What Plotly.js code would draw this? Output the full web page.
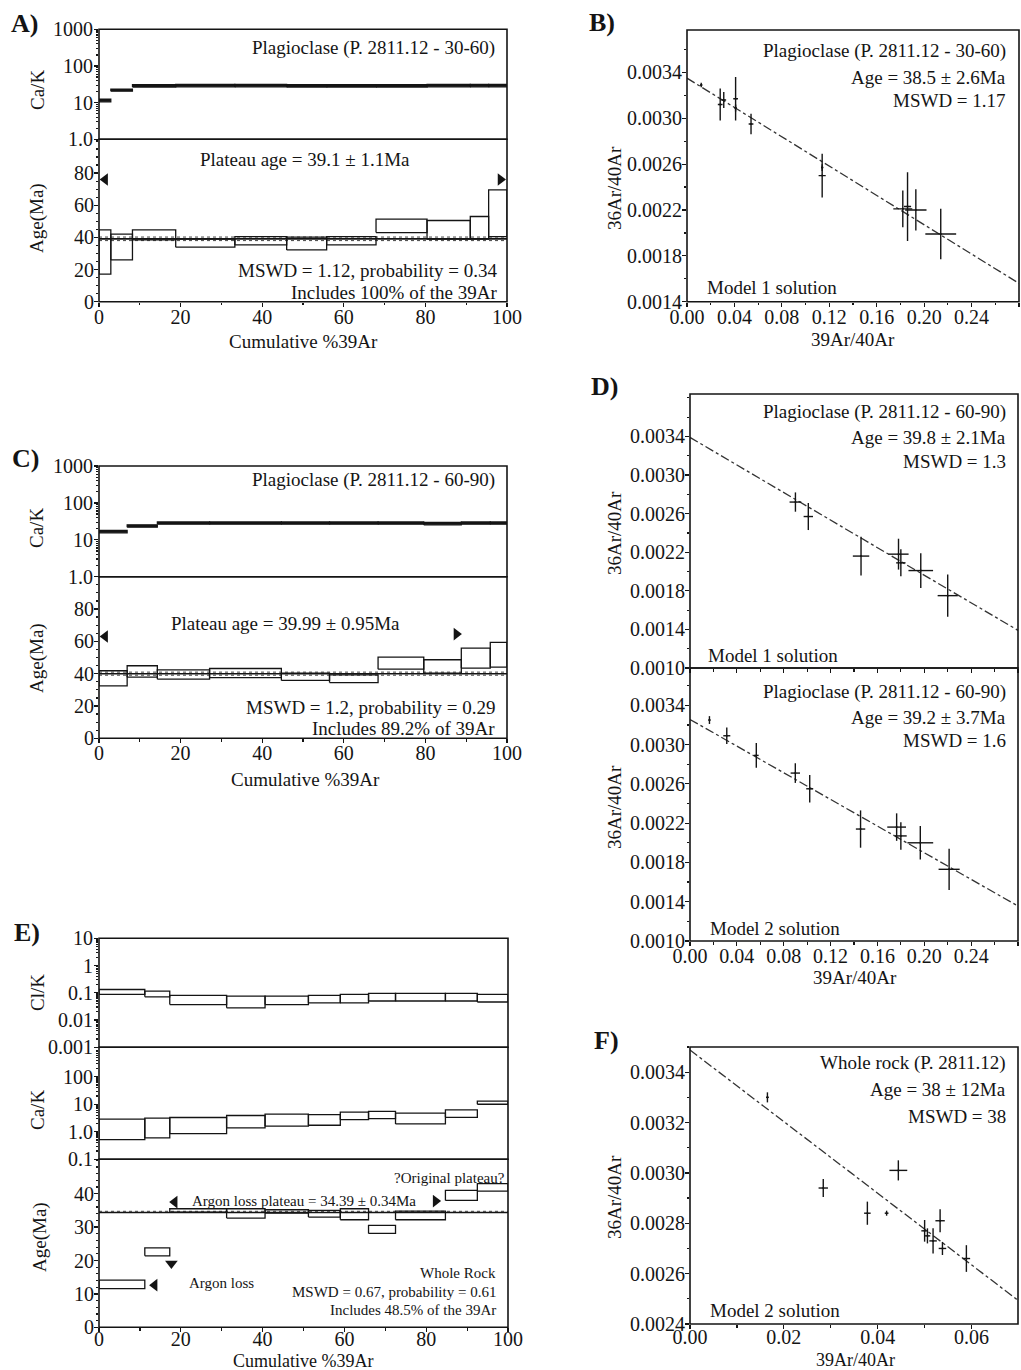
<!DOCTYPE html>
<html>
<head>
<meta charset="utf-8">
<script src="https://cdn.plot.ly/plotly-3.0.1.min.js"></script>
<style>html,body{margin:0;padding:0;background:#fff}#chart{width:1021px;height:1370px}</style>
</head>
<body>
<div id="chart"></div>
<script>
// ---------- DATA ----------
// Panel A : Plagioclase 30-60 step heating spectrum
const cumA = [0, 2.9, 8.2, 18.8, 33.3, 46, 55.8, 67.9, 80.4, 91, 95.5, 100];
const ageA_min = [17.2, 26, 38.5, 33.9, 35.3, 32.2, 35.3, 43, 38.9, 38.9, 40.5];
const ageA_max = [44.7, 42, 44.7, 38.9, 40.5, 40.1, 40.5, 51.3, 50.5, 53, 69.6];
const cakA_min = [10.5, 20.5, 26.5, 27, 27, 26.5, 26.5, 26.5, 27, 27, 27];
const cakA_max = [12.5, 23.5, 31, 31.5, 31.5, 31, 31, 31, 31.5, 31.5, 31.5];
const plateauA = 39.1, plateauA_err = 1.1;
const arrowsA_x = [1.5, 98.4], arrowsA_y = [76, 76], arrowsA_sym = ['triangle-left', 'triangle-right'];

// Panel B : isochron 30-60
const isoB_x = [0.012, 0.028, 0.031, 0.041, 0.041, 0.054, 0.114, 0.114, 0.182, 0.186, 0.193, 0.214];
const isoB_y = [0.00329, 0.00312, 0.00316, 0.00317, 0.00309, 0.00295, 0.00250, 0.00257, 0.00221, 0.00223, 0.00220, 0.00199];
const isoB_ex = [0.001, 0.002, 0.002, 0.002, 0.001, 0.002, 0.003, 0.001, 0.008, 0.003, 0.009, 0.013];
const isoB_ey = [0.00002, 0.00014, 0.00007, 0.00019, 0.00003, 0.00009, 0.00019, 0.00003, 0.00016, 0.0003, 0.00018, 0.00022];
const lineB_x = [0, 0.28], lineB_y = [0.00335, 0.00156];

// Panel C : Plagioclase 60-90 spectrum
const cumC = [0, 6.9, 14.3, 27.1, 44.7, 56.5, 68.4, 79.6, 88.8, 95.9, 100];
const ageC_min = [32.5, 37.8, 36.6, 37.6, 35.8, 34.5, 42.8, 40.3, 43.4, 44];
const ageC_max = [41.8, 44.9, 42.4, 43.2, 40.3, 39.3, 50.2, 48.6, 55.8, 59.3];
const cakC_min = [15.5, 22, 26.5, 26.5, 26.5, 26.5, 26.5, 25.5, 26.5, 26.5];
const cakC_max = [18, 25.5, 30.5, 30.5, 30.5, 30.5, 30.5, 29.5, 30.5, 30.5];
const plateauC = 39.99, plateauC_err = 0.95;
const arrowsC_x = [1.5, 87.6], arrowsC_y = [63, 64.5], arrowsC_sym = ['triangle-left', 'triangle-right'];

// Panel D : isochrons 60-90 (Model 1 / Model 2)
const isoD1_x = [0.090, 0.101, 0.146, 0.178, 0.180, 0.197, 0.220];
const isoD1_y = [0.00272, 0.00257, 0.00216, 0.00218, 0.00209, 0.00201, 0.00175];
const isoD1_ex = [0.005, 0.004, 0.007, 0.0086, 0.004, 0.0105, 0.0086];
const isoD1_ey = [0.0001, 0.00014, 0.0002, 0.00016, 0.00014, 0.00018, 0.00022];
const lineD1_x = [0, 0.28], lineD1_y = [0.00339, 0.00139];

const isoD2_x = [0.0166, 0.0314, 0.0566, 0.0899, 0.1022, 0.1456, 0.1764, 0.180, 0.1966, 0.2212];
const isoD2_y = [0.00325, 0.00309, 0.00289, 0.00271, 0.00255, 0.00214, 0.00216, 0.00207, 0.00200, 0.00173];
const isoD2_ex = [0.001, 0.003, 0.002, 0.004, 0.003, 0.004, 0.008, 0.005, 0.011, 0.009];
const isoD2_ey = [0.00004, 0.000085, 0.000125, 0.0001, 0.00014, 0.00019, 0.00014, 0.00014, 0.00017, 0.00021];
const lineD2_x = [0, 0.28], lineD2_y = [0.003256, 0.001356];

// Panel E : whole rock spectrum
const cumE = [0, 11.2, 17.3, 31.2, 40.6, 51.2, 59.0, 65.9, 72.5, 84.7, 92.5, 100];
const clkE_min = [0.087, 0.071, 0.037, 0.028, 0.037, 0.043, 0.043, 0.05, 0.05, 0.05, 0.046];
const clkE_max = [0.132, 0.115, 0.080, 0.076, 0.076, 0.080, 0.087, 0.095, 0.095, 0.095, 0.087];
const cakE_min = [0.52, 0.6, 0.85, 1.39, 1.6, 1.73, 2.76, 3.0, 1.93, 3.34, 10];
const cakE_max = [2.9, 3.16, 3.3, 3.9, 4.4, 4.2, 5.2, 5.5, 4.76, 6.3, 13.1];
const ageE_min = [11.6, 21.4, 34.5, 32.7, 34.2, 33, 32.2, 28.1, 32.2, 38, 40.8];
const ageE_max = [14.1, 23.8, 35.5, 35.5, 35.2, 35, 35.5, 30.5, 34.8, 41, 43];
const plateauE = 34.39, plateauE_err = 0.34;
const arrowsE_x = [18.5, 82.3, 17.7, 13.6];
const arrowsE_y = [37.5, 37.8, 19.1, 12.6];
const arrowsE_sym = ['triangle-left', 'triangle-right', 'triangle-down', 'triangle-left'];

// Panel F : whole rock isochron
const isoF_x = [0.0165, 0.0284, 0.0444, 0.0378, 0.0419, 0.0500, 0.0506, 0.0518, 0.0533, 0.0538, 0.0589];
const isoF_y = [0.00330, 0.00294, 0.00301, 0.00284, 0.00284, 0.00277, 0.00275, 0.00273, 0.00281, 0.00270, 0.00266];
const isoF_ex = [0.0003, 0.001, 0.0019, 0.0007, 0.0004, 0.0007, 0.0006, 0.0008, 0.001, 0.0008, 0.0008];
const isoF_ey = [0.00002, 0.000036, 0.00004, 0.000046, 0.00001, 0.000043, 0.00003, 0.00005, 0.000046, 0.000026, 0.000053];
const lineF_x = [0, 0.0699], lineF_y = [0.003488, 0.002494];

// Tick labels
const spectrumX_ticks = [0, 20, 40, 60, 80, 100];
const cak_ticks = [1, 10, 100, 1000], cak_text = ['1.0', '10', '100', '1000'];
const clk_ticks = [0.001, 0.01, 0.1, 1, 10], clk_text = ['0.001', '0.01', '0.1', '1', '10'];
const cakE_ticks = [0.1, 1, 10, 100], cakE_text = ['0.1', '1.0', '10', '100'];
const isoX_ticks = [0, 0.04, 0.08, 0.12, 0.16, 0.20, 0.24, 0.28];
const isoY_ticks = [0.0010, 0.0014, 0.0018, 0.0022, 0.0026, 0.0030, 0.0034];
const isoF_xticks = [0, 0.02, 0.04, 0.06];
const isoF_yticks = [0.0024, 0.0026, 0.0028, 0.0030, 0.0032, 0.0034];

// ---------- HELPERS ----------
const W = 1021, H = 1370;
const FONT = '"Liberation Serif", "Times New Roman", serif';
const INK = '#141414';
const px = v => v / W;
const py = v => 1 - v / H;

function boxes(cum, lo, hi, xa, ya, filled) {
  const x = [], y = [];
  for (let i = 0; i < lo.length; i++) {
    x.push(cum[i], cum[i + 1], cum[i + 1], cum[i], cum[i], null);
    y.push(lo[i], lo[i], hi[i], hi[i], lo[i], null);
  }
  return {type: 'scatter', mode: 'lines', x, y, xaxis: xa, yaxis: ya,
    line: {color: INK, width: filled ? 1.2 : 1.3},
    fill: filled ? 'toself' : 'none', fillcolor: INK,
    hoverinfo: 'skip', showlegend: false};
}
function hline(val, lo, hi, xa, ya, width, dash) {
  return {type: 'scatter', mode: 'lines', x: [lo, hi], y: [val, val], xaxis: xa, yaxis: ya,
    line: {color: INK, width, dash: dash || 'solid'}, hoverinfo: 'skip', showlegend: false};
}
function arrows(xs, ys, syms, xa, ya) {
  return {type: 'scatter', mode: 'markers', x: xs, y: ys, xaxis: xa, yaxis: ya,
    marker: {symbol: syms, size: 11, color: INK}, hoverinfo: 'skip', showlegend: false};
}
function crosses(xs, ys, ex, ey, xa, ya) {
  return {type: 'scatter', mode: 'markers', x: xs, y: ys, xaxis: xa, yaxis: ya,
    marker: {size: 2, color: INK},
    error_x: {type: 'data', array: ex, visible: true, width: 0, thickness: 1.4, color: INK},
    error_y: {type: 'data', array: ey, visible: true, width: 0, thickness: 1.4, color: INK},
    hoverinfo: 'skip', showlegend: false};
}
function isoLine(xs, ys, xa, ya) {
  return {type: 'scatter', mode: 'lines', x: xs, y: ys, xaxis: xa, yaxis: ya,
    line: {color: '#333', width: 1.3, dash: 'dashdot'}, hoverinfo: 'skip', showlegend: false};
}
function logMinor(a, b) {
  const out = [];
  for (let e = a; e < b; e++) for (let m = 2; m <= 9; m++) out.push(m * Math.pow(10, e));
  return out;
}

const base = {showgrid: false, zeroline: false, showline: false, ticks: 'outside', ticklen: 4,
  tickwidth: 1.2, tickcolor: INK, tickangle: 0, automargin: false, fixedrange: true,
  tickfont: {family: FONT, size: 20, color: INK}};

function linX(dom, anchor, range, tickvals, fmt, minorDt, showLabels, standoff) {
  return Object.assign({}, base, {domain: dom, anchor, range, tickmode: 'array', tickvals,
    tickformat: fmt || '', showticklabels: showLabels !== false,
    ticklabelstandoff: standoff === undefined ? -7 : standoff,
    minor: {ticks: 'outside', ticklen: 2.5, tickcolor: INK, dtick: minorDt, tick0: 0}});
}
function linY(dom, anchor, range, tickvals, fmt, minorDt) {
  return Object.assign({}, base, {domain: dom, anchor, range, tickmode: 'array', tickvals,
    tickformat: fmt || '', ticklabelstandoff: -4,
    minor: {ticks: 'outside', ticklen: 2.5, tickcolor: INK, dtick: minorDt, tick0: 0}});
}
function logY(dom, anchor, range, tickvals, ticktext, e0, e1) {
  return Object.assign({}, base, {type: 'log', domain: dom, anchor, range, tickmode: 'array',
    tickvals, ticktext, ticklabelstandoff: -3,
    minor: {ticks: 'outside', ticklen: 2, tickcolor: INK, tickmode: 'array', tickvals: logMinor(e0, e1)}});
}

// ---------- TRACES ----------
const data = [
  // A
  boxes(cumA, cakA_min, cakA_max, 'x', 'y', true),
  hline(plateauA, 0, 100, 'x', 'y2', 1.6),
  hline(plateauA - plateauA_err, 0, 100, 'x', 'y2', 0.8, 'dot'),
  hline(plateauA + plateauA_err, 0, 100, 'x', 'y2', 0.8, 'dot'),
  boxes(cumA, ageA_min, ageA_max, 'x', 'y2', false),
  arrows(arrowsA_x, arrowsA_y, arrowsA_sym, 'x', 'y2'),
  // B
  isoLine(lineB_x, lineB_y, 'x2', 'y3'),
  crosses(isoB_x, isoB_y, isoB_ex, isoB_ey, 'x2', 'y3'),
  // C
  boxes(cumC, cakC_min, cakC_max, 'x3', 'y4', true),
  hline(plateauC, 0, 100, 'x3', 'y5', 1.6),
  hline(plateauC - plateauC_err, 0, 100, 'x3', 'y5', 0.8, 'dot'),
  hline(plateauC + plateauC_err, 0, 100, 'x3', 'y5', 0.8, 'dot'),
  boxes(cumC, ageC_min, ageC_max, 'x3', 'y5', false),
  arrows(arrowsC_x, arrowsC_y, arrowsC_sym, 'x3', 'y5'),
  // D
  isoLine(lineD1_x, lineD1_y, 'x4', 'y6'),
  crosses(isoD1_x, isoD1_y, isoD1_ex, isoD1_ey, 'x4', 'y6'),
  isoLine(lineD2_x, lineD2_y, 'x5', 'y7'),
  crosses(isoD2_x, isoD2_y, isoD2_ex, isoD2_ey, 'x5', 'y7'),
  // E
  boxes(cumE, clkE_min, clkE_max, 'x6', 'y8', false),
  boxes(cumE, cakE_min, cakE_max, 'x6', 'y9', false),
  hline(plateauE, 0, 100, 'x6', 'y10', 1.6),
  hline(plateauE + plateauE_err, 0, 100, 'x6', 'y10', 0.8, 'dot'),
  boxes(cumE, ageE_min, ageE_max, 'x6', 'y10', false),
  arrows(arrowsE_x, arrowsE_y, arrowsE_sym, 'x6', 'y10'),
  // F
  isoLine(lineF_x, lineF_y, 'x7', 'y11'),
  crosses(isoF_x, isoF_y, isoF_ex, isoF_ey, 'x7', 'y11')
];

// ---------- LAYOUT ----------
const xA = [px(99), px(507)], xR = [px(690), px(1018)];
const layout = {
  width: W, height: H, margin: {l: 0, r: 0, t: 0, b: 0},
  paper_bgcolor: '#fff', plot_bgcolor: 'rgba(0,0,0,0)', showlegend: false,
  font: {family: FONT, color: INK},
  // A
  xaxis: linX(xA, 'y2', [0, 100], spectrumX_ticks, '', 10),
  yaxis: logY([py(139.3), py(29.3)], 'x', [0, 3], cak_ticks, cak_text, 0, 3),
  yaxis2: linY([py(301.7), py(139.3)], 'x', [0, 101], [0, 20, 40, 60, 80], '', 5),
  // B
  xaxis2: linX([px(687), px(1019)], 'y3', [0, 0.28], isoX_ticks, '.2f', 0.02),
  yaxis3: linY([py(301.7), py(30)], 'x2', [0.0014, 0.00377], isoY_ticks.slice(1), '.4f', 0.0002),
  // C
  xaxis3: linX(xA, 'y5', [0, 100], spectrumX_ticks, '', 10),
  yaxis4: logY([py(576.7), py(466)], 'x3', [0, 3], cak_ticks, cak_text, 0, 3),
  yaxis5: linY([py(738.3), py(576.7)], 'x3', [0, 100], [0, 20, 40, 60, 80], '', 5),
  // D
  xaxis4: linX(xR, 'y6', [0, 0.28], isoX_ticks, '.2f', 0.02, false),
  yaxis6: linY([py(668), py(394)], 'x4', [0.0010, 0.00384], isoY_ticks, '.4f', 0.0002),
  xaxis5: linX(xR, 'y7', [0, 0.28], isoX_ticks, '.2f', 0.02),
  yaxis7: linY([py(941), py(668)], 'x5', [0.0010, 0.00378], isoY_ticks, '.4f', 0.0002),
  // E
  xaxis6: linX([px(99), px(508)], 'y10', [0, 100], spectrumX_ticks, '', 10, true, -10),
  yaxis8: logY([py(1047.3), py(938.3)], 'x6', [-3, 1], clk_ticks, clk_text, -3, 1),
  yaxis9: logY([py(1159.3), py(1047.3)], 'x6', [-1, 3.07], cakE_ticks, cakE_text, -1, 3),
  yaxis10: linY([py(1327.3), py(1159.3)], 'x6', [0, 50.3], [0, 10, 20, 30, 40], '', 2),
  // F
  xaxis7: linX(xR, 'y11', [0, 0.0699], isoF_xticks, '.2f', 0.01, true, -9),
  yaxis11: linY([py(1324), py(1047)], 'x7', [0.0024, 0.0035], isoF_yticks, '.4f', 0.0001)
};

// frames
const frames = [['x','y'],['x','y2'],['x2','y3'],['x3','y4'],['x3','y5'],['x4','y6'],['x5','y7'],
  ['x6','y8'],['x6','y9'],['x6','y10'],['x7','y11']];
layout.shapes = frames.map(([xa, ya]) => ({type: 'rect', xref: xa + ' domain', yref: ya + ' domain',
  x0: 0, x1: 1, y0: 0, y1: 1, line: {color: INK, width: 1.6}, layer: 'above'}));

function ann(text, x, y, anchor, size, angle, bold) {
  return {text: bold ? '<b>' + text + '</b>' : text, x: px(x), y: py(y), xref: 'paper', yref: 'paper',
    xanchor: anchor || 'right', yanchor: 'middle', showarrow: false, textangle: angle || 0,
    font: {family: FONT, size: size || 19, color: INK}};
}
layout.annotations = [
  // panel letters
  ann('A)', 9, 24, 'left', 26, 0, true),
  ann('B)', 587, 23, 'left', 26, 0, true),
  ann('C)', 10, 458, 'left', 26, 0, true),
  ann('D)', 589, 387, 'left', 26, 0, true),
  ann('E)', 12, 933, 'left', 26, 0, true),
  ann('F)', 592, 1040, 'left', 26, 0, true),
  // A
  ann('Plagioclase (P. 2811.12 - 30-60)', 497, 48, 'right'),
  ann('Plateau age = 39.1 ± 1.1Ma', 305, 160, 'center'),
  ann('MSWD = 1.12, probability = 0.34', 499, 270, 'right'),
  ann('Includes 100% of the 39Ar', 499, 293, 'right'),
  ann('Cumulative %39Ar', 303, 341, 'center'),
  ann('Ca/K', 37, 90, 'center', 19, -90),
  ann('Age(Ma)', 37, 218, 'center', 19, -90),
  // B
  ann('Plagioclase (P. 2811.12 - 30-60)', 1008, 51, 'right'),
  ann('Age = 38.5 ± 2.6Ma', 1008, 77, 'right'),
  ann('MSWD = 1.17', 1008, 100, 'right'),
  ann('Model 1 solution', 705, 287, 'left'),
  ann('39Ar/40Ar', 853, 339, 'center'),
  ann('36Ar/40Ar', 614, 188, 'center', 19, -90),
  // C
  ann('Plagioclase (P. 2811.12 - 60-90)', 497, 480, 'right'),
  ann('Plateau age = 39.99 ± 0.95Ma', 285, 623, 'center'),
  ann('MSWD = 1.2, probability = 0.29', 497, 707, 'right'),
  ann('Includes 89.2% of 39Ar', 497, 728, 'right'),
  ann('Cumulative %39Ar', 305, 779, 'center'),
  ann('Ca/K', 37, 528, 'center', 19, -90),
  ann('Age(Ma)', 37, 658, 'center', 19, -90),
  // D
  ann('Plagioclase (P. 2811.12 - 60-90)', 1008, 412, 'right'),
  ann('Age = 39.8 ± 2.1Ma', 1008, 437, 'right'),
  ann('MSWD = 1.3', 1008, 461, 'right'),
  ann('Model 1 solution', 706, 655, 'left'),
  ann('36Ar/40Ar', 614, 533, 'center', 19, -90),
  ann('Plagioclase (P. 2811.12 - 60-90)', 1008, 692, 'right'),
  ann('Age = 39.2 ± 3.7Ma', 1008, 717, 'right'),
  ann('MSWD = 1.6', 1008, 740, 'right'),
  ann('Model 2 solution', 708, 928, 'left'),
  ann('36Ar/40Ar', 614, 807, 'center', 19, -90),
  ann('39Ar/40Ar', 855, 977, 'center'),
  // E
  ann('Cl/K', 37, 993, 'center', 19, -90),
  ann('Ca/K', 37, 1110, 'center', 19, -90),
  ann('Age(Ma)', 40, 1237, 'center', 19, -90),
  ann('?Original plateau?', 507, 1178, 'right', 15),
  ann('Argon loss plateau = 34.39 ± 0.34Ma', 304, 1201, 'center', 15),
  ann('Argon loss', 187, 1283, 'left', 15),
  ann('Whole Rock', 498, 1273, 'right', 15),
  ann('MSWD = 0.67, probability = 0.61', 498, 1292, 'right', 15),
  ann('Includes 48.5% of the 39Ar', 498, 1310, 'right', 15),
  ann('Cumulative %39Ar', 303, 1361, 'center', 18),
  // F
  ann('Whole rock (P. 2811.12)', 1008, 1063, 'right'),
  ann('Age = 38 ± 12Ma', 1008, 1089, 'right'),
  ann('MSWD = 38', 1008, 1116, 'right'),
  ann('Model 2 solution', 708, 1310, 'left'),
  ann('36Ar/40Ar', 614, 1197, 'center', 19, -90),
  ann('39Ar/40Ar', 855, 1360, 'center', 18)
];

Plotly.newPlot('chart', data, layout, {staticPlot: true, displayModeBar: false});
</script>
</body>
</html>
